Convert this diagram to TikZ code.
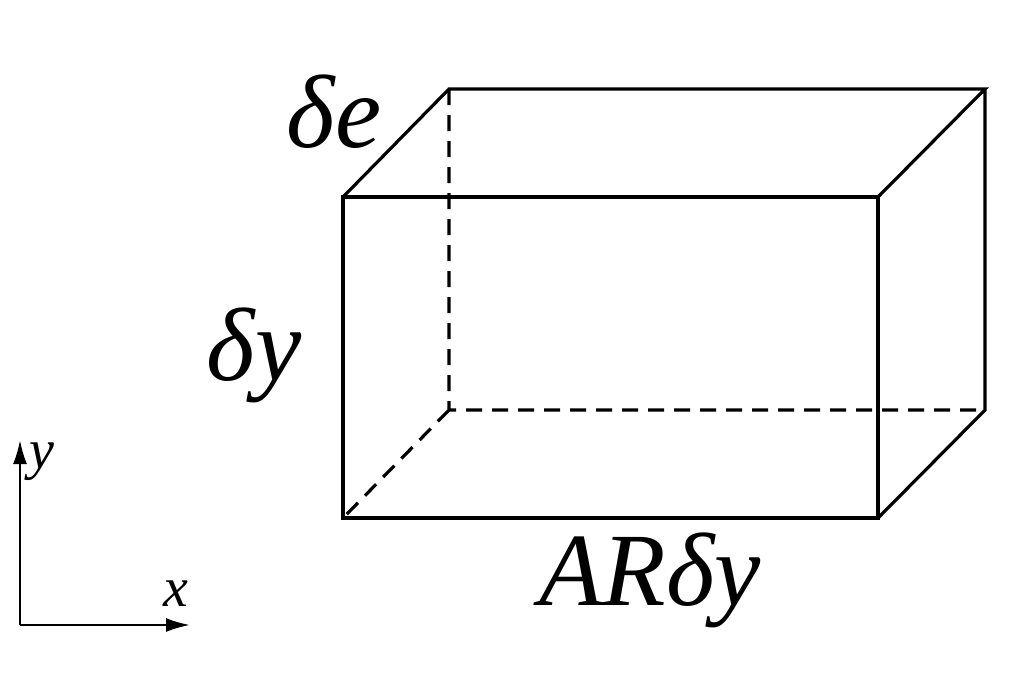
\documentclass[tikz,border=0pt]{standalone}
\usepackage{fontspec}
\setmainfont{Liberation Serif}[ItalicFont={Liberation Serif Italic}]
\usetikzlibrary{arrows.meta}
\begin{document}
\begin{tikzpicture}[x=1pt,y=-1pt,line width=3.2pt,
  dsh/.style={dashed,dash pattern=on 16pt off 10pt},
  lbl/.style={font=\fontsize{104}{104}\selectfont\itshape,inner sep=0pt},
  ax/.style={font=\fontsize{56}{56}\selectfont\itshape,inner sep=0pt},
  axarr/.style={-{Latex[length=24pt,width=14pt]},line width=2.4pt}]
\useasboundingbox (0,0) rectangle (1019,677);
\coordinate (A) at (343,197); \coordinate (B) at (878,197);
\coordinate (C) at (878,518); \coordinate (D) at (343,518);
\coordinate (E) at (449,89); \coordinate (F) at (985,89);
\coordinate (G) at (985,410); \coordinate (H) at (449,410);
\draw (A)--(B)--(C)--(D)--cycle;
\draw (A)--(E)--(F)--(B) (F)--(G)--(C);
\draw[dsh] (E)--(H)--(G) (H)--(D);
\coordinate (O) at (20,625); \coordinate (Y) at (20,440); \coordinate (X) at (190,625);
\draw[axarr] (O)--(Y);
\draw[axarr] (O)--(X);
\node[lbl] (de) at (334,112) {δe};
\node[lbl] (dy) at (254,355) {δy};
\node[lbl] (ar) at (650,580) {ARδy};
\node[ax] (ly) at (42,462) {y};
\node[ax] (lx) at (176,594) {x};
\end{tikzpicture}
\end{document}
